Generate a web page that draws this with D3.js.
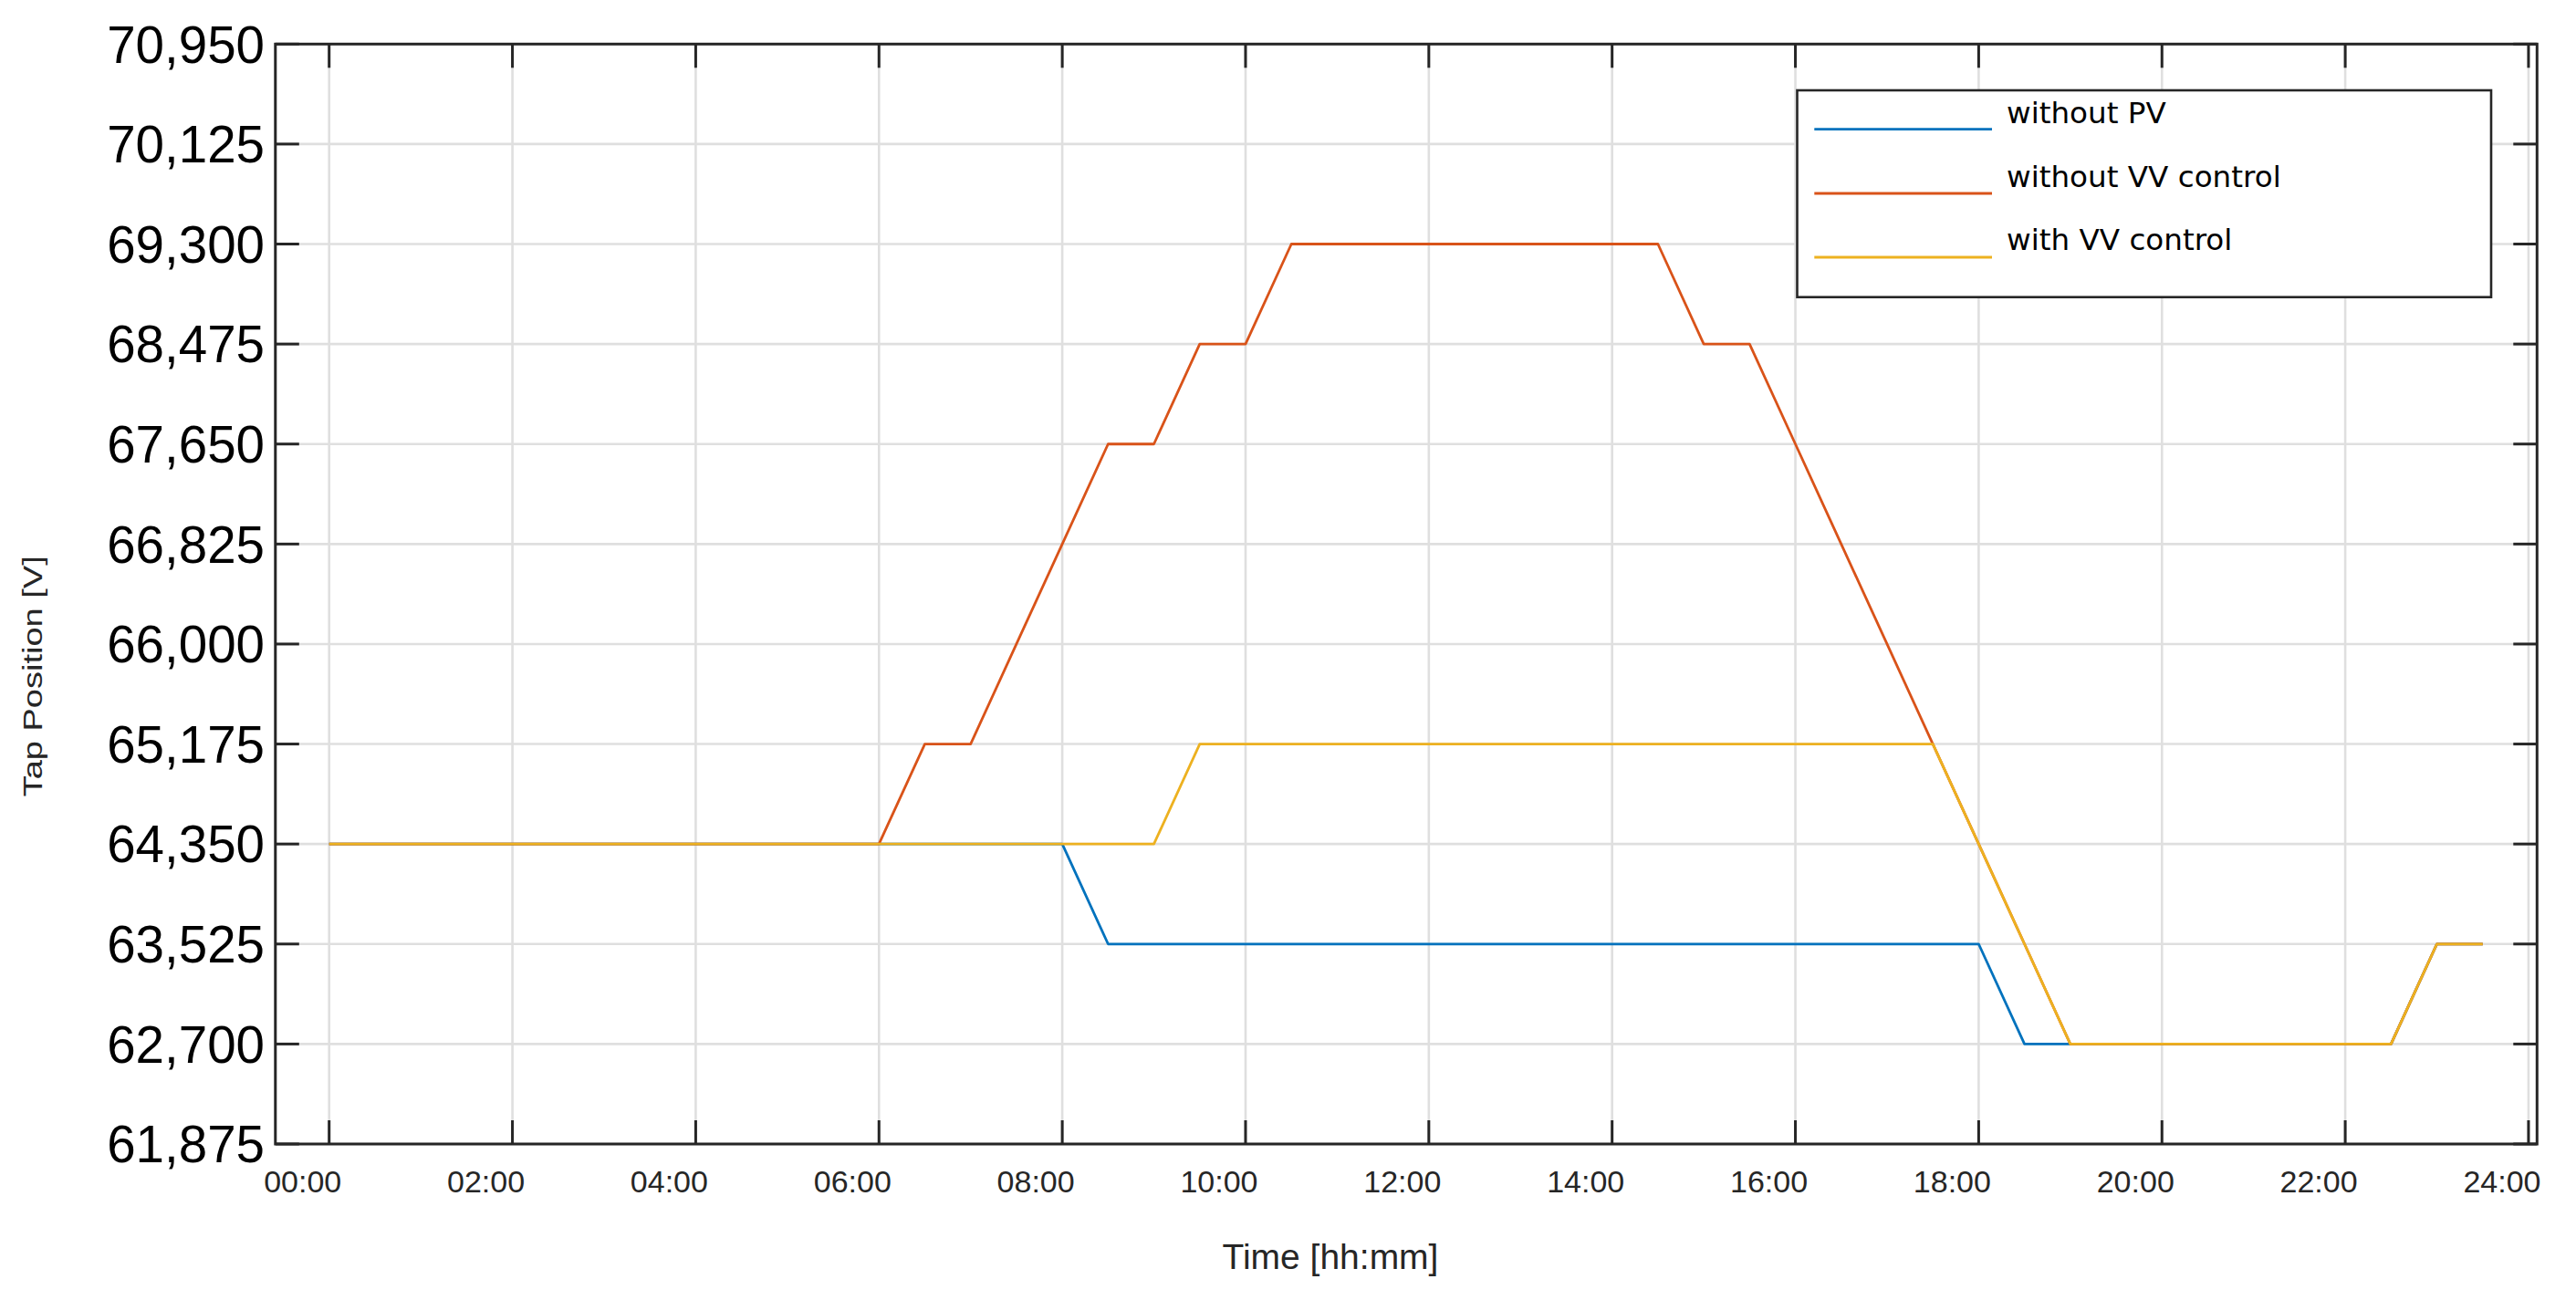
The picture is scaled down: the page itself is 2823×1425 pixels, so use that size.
<!DOCTYPE html>
<html>
<head>
<meta charset="utf-8">
<script src="https://cdn.jsdelivr.net/npm/d3@7"></script>
<style>
  html, body { margin: 0; padding: 0; background: #fff; }
  svg { display: block; }
</style>
</head>
<body>
<script>
// ---------------- DATA ----------------
const hours = [0, 0.5, 1, 1.5, 2, 2.5, 3, 3.5, 4, 4.5, 5, 5.5, 6, 6.5, 7, 7.5, 8, 8.5, 9, 9.5,
  10, 10.5, 11, 11.5, 12, 12.5, 13, 13.5, 14, 14.5, 15, 15.5, 16, 16.5, 17, 17.5, 18, 18.5, 19, 19.5,
  20, 20.5, 21, 21.5, 22, 22.5, 23, 23.5];

const withoutPV = [64350, 64350, 64350, 64350, 64350, 64350, 64350, 64350, 64350, 64350,
  64350, 64350, 64350, 64350, 64350, 64350, 64350, 63525, 63525, 63525,
  63525, 63525, 63525, 63525, 63525, 63525, 63525, 63525, 63525, 63525,
  63525, 63525, 63525, 63525, 63525, 63525, 63525, 62700, 62700, 62700,
  62700, 62700, 62700, 62700, 62700, 62700, 63525, 63525];

const withoutVV = [64350, 64350, 64350, 64350, 64350, 64350, 64350, 64350, 64350, 64350,
  64350, 64350, 64350, 65175, 65175, 66000, 66825, 67650, 67650, 68475,
  68475, 69300, 69300, 69300, 69300, 69300, 69300, 69300, 69300, 69300,
  68475, 68475, 67650, 66825, 66000, 65175, 64350, 63525, 62700, 62700,
  62700, 62700, 62700, 62700, 62700, 62700, 63525, 63525];

const withVV = [64350, 64350, 64350, 64350, 64350, 64350, 64350, 64350, 64350, 64350,
  64350, 64350, 64350, 64350, 64350, 64350, 64350, 64350, 64350, 65175,
  65175, 65175, 65175, 65175, 65175, 65175, 65175, 65175, 65175, 65175,
  65175, 65175, 65175, 65175, 65175, 65175, 64350, 63525, 62700, 62700,
  62700, 62700, 62700, 62700, 62700, 62700, 63525, 63525];

const seriesNames = ["without PV", "without VV control", "with VV control"];
const seriesValues = [withoutPV, withoutVV, withVV];
const seriesColors = ["#0072BD", "#D95319", "#EDB120"];

const xTicks = [0, 2, 4, 6, 8, 10, 12, 14, 16, 18, 20, 22, 24];
const xTickLabels = ["00:00", "02:00", "04:00", "06:00", "08:00", "10:00", "12:00",
  "14:00", "16:00", "18:00", "20:00", "22:00", "24:00"];
const yTicks = [61875, 62700, 63525, 64350, 65175, 66000, 66825, 67650, 68475, 69300, 70125, 70950];
const yTickLabels = ["61,875", "62,700", "63,525", "64,350", "65,175", "66,000", "66,825",
  "67,650", "68,475", "69,300", "70,125", "70,950"];

const xTitle = "Time [hh:mm]";
const yTitle = "Tap Position [V]";

// ---------------- LAYOUT ----------------
const W = 2823, H = 1425;
const L = 301.8, R = 2780.3, T = 48.3, B = 1254;

const x = d3.scaleLinear().domain([-0.5865, 24.093]).range([L, R]);
const y = d3.scaleLinear().domain([61875, 70950]).range([B, T]);

const svg = d3.select("body").append("svg")
  .attr("width", W).attr("height", H)
  .attr("viewBox", `0 0 ${W} ${H}`);

svg.append("rect").attr("width", W).attr("height", H).attr("fill", "#fff");

// grid
const grid = svg.append("g");
grid.selectAll(".vg").data(xTicks).join("line")
  .attr("x1", d => x(d)).attr("x2", d => x(d))
  .attr("y1", T).attr("y2", B)
  .attr("stroke", "#dfdfdf").attr("stroke-width", 2.6);
grid.selectAll(".hg").data(yTicks).join("line")
  .attr("x1", L).attr("x2", R)
  .attr("y1", d => y(d)).attr("y2", d => y(d))
  .attr("stroke", "#dfdfdf").attr("stroke-width", 2.6);

// lines
const line = d3.line().x((d, i) => x(hours[i])).y(d => y(d));
const lines = svg.append("g");
seriesValues.forEach((vals, k) => {
  lines.append("path")
    .datum(vals)
    .attr("d", line)
    .attr("fill", "none")
    .attr("stroke", seriesColors[k])
    .attr("stroke-width", 2.8)
    .attr("stroke-linejoin", "round");
});

// frame
const axc = "#262626";
svg.append("rect")
  .attr("x", L).attr("y", T).attr("width", R - L).attr("height", B - T)
  .attr("fill", "none").attr("stroke", axc).attr("stroke-width", 3);

// ticks (inward, all four sides)
const TL = 26;
const tk = svg.append("g").attr("stroke", axc).attr("stroke-width", 3);
xTicks.forEach(t => {
  tk.append("line").attr("x1", x(t)).attr("x2", x(t)).attr("y1", B).attr("y2", B - TL);
  tk.append("line").attr("x1", x(t)).attr("x2", x(t)).attr("y1", T).attr("y2", T + TL);
});
yTicks.forEach(v => {
  tk.append("line").attr("x1", L).attr("x2", L + TL).attr("y1", y(v)).attr("y2", y(v));
  tk.append("line").attr("x1", R).attr("x2", R - TL).attr("y1", y(v)).attr("y2", y(v));
});

// x tick labels
svg.append("g").selectAll("text").data(xTicks).join("text")
  .attr("x", d => x(d) - 29)
  .attr("y", 1307)
  .attr("text-anchor", "middle")
  .attr("font-family", "'Liberation Sans', Arial, sans-serif")
  .attr("font-size", 34)
  .attr("fill", "#262626")
  .text((d, i) => xTickLabels[i]);

// y tick labels
svg.append("g").selectAll("text").data(yTicks).join("text")
  .attr("x", 290)
  .attr("y", d => y(d) + 20.2)
  .attr("text-anchor", "end")
  .attr("font-family", "'Liberation Sans', Arial, sans-serif")
  .attr("font-size", 56.5)
  .attr("fill", "#000")
  .text((d, i) => yTickLabels[i]);

// axis titles
svg.append("text")
  .attr("x", 1458).attr("y", 1391)
  .attr("text-anchor", "middle")
  .attr("font-family", "'Liberation Sans', Arial, sans-serif")
  .attr("font-size", 39)
  .attr("fill", "#262626")
  .text(xTitle);

svg.append("text")
  .attr("transform", "translate(45.7,741.3) rotate(-90)")
  .attr("text-anchor", "middle")
  .attr("font-family", "'Liberation Sans', Arial, sans-serif")
  .attr("font-size", 29.5)
  .attr("fill", "#262626")
  .attr("textLength", 264)
  .attr("lengthAdjust", "spacingAndGlyphs")
  .text(yTitle);

// legend
const lg = svg.append("g");
lg.append("rect")
  .attr("x", 1969.5).attr("y", 99).attr("width", 2730 - 1969.5).attr("height", 325.7 - 99)
  .attr("fill", "#fff").attr("stroke", axc).attr("stroke-width", 2.6);
const legLineY = [141.7, 212, 282];
const legTextY = [135, 205, 274];
seriesNames.forEach((name, k) => {
  lg.append("line")
    .attr("x1", 1988.3).attr("x2", 2183)
    .attr("y1", legLineY[k]).attr("y2", legLineY[k])
    .attr("stroke", seriesColors[k]).attr("stroke-width", 2.8);
  lg.append("text")
    .attr("x", 2199).attr("y", legTextY[k])
    .attr("font-family", "'DejaVu Sans', sans-serif")
    .attr("font-size", 32.6)
    .attr("fill", "#000")
    .text(name);
});
</script>
</body>
</html>
